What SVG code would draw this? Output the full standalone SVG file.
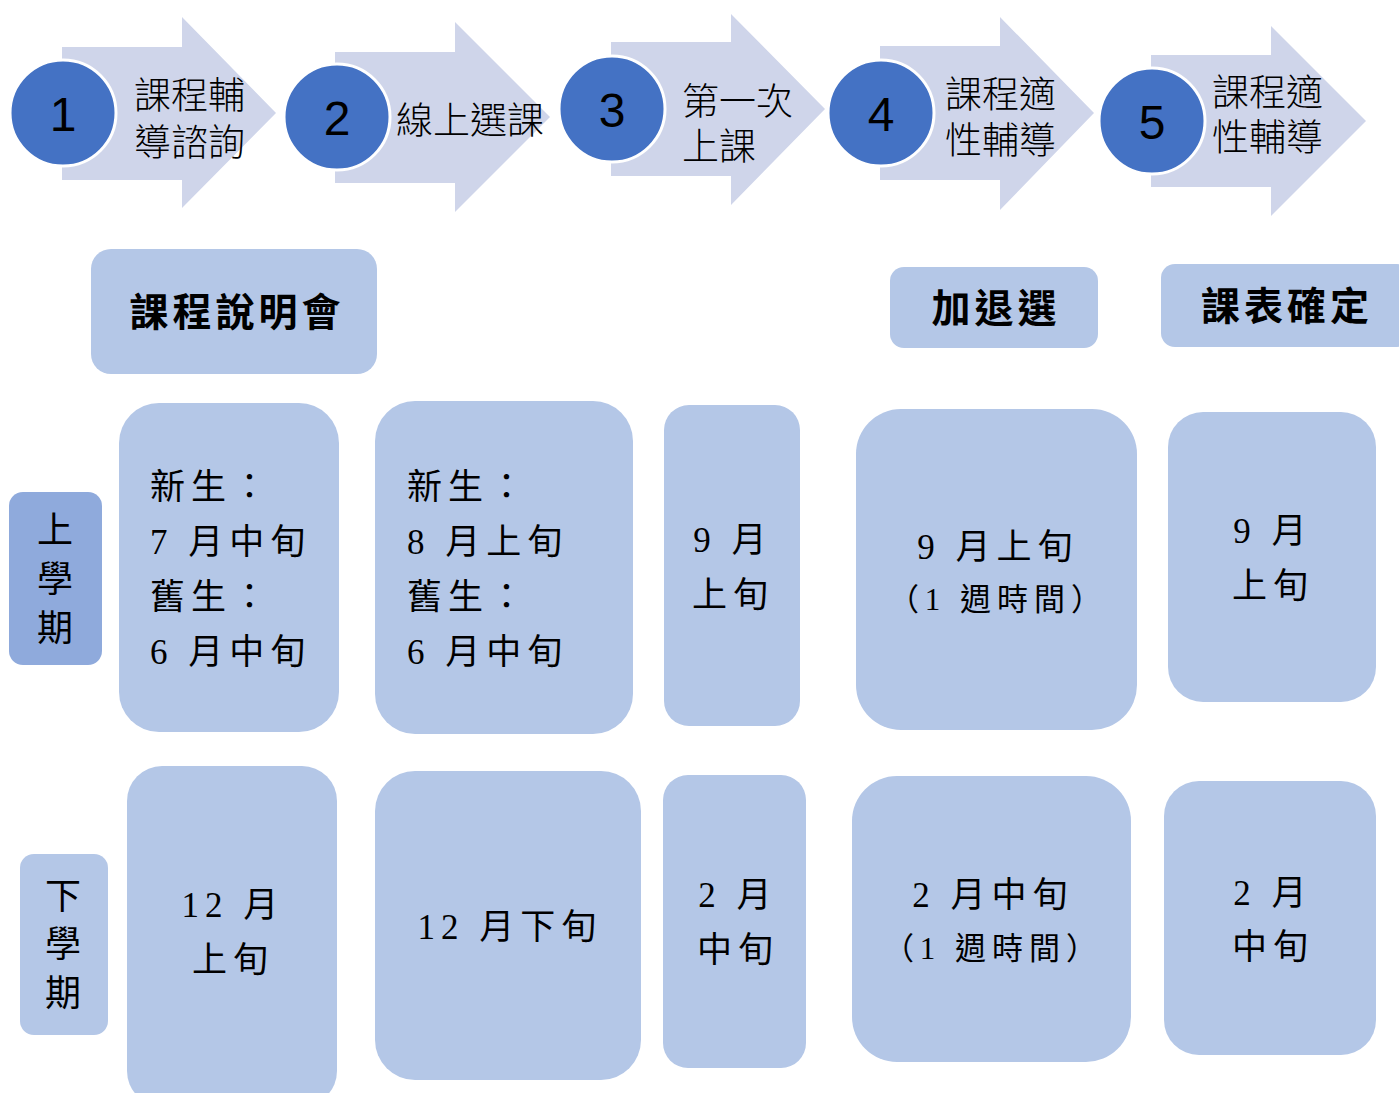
<svg xmlns="http://www.w3.org/2000/svg" width="1399" height="1093" viewBox="0 0 1399 1093">
<style>
.arrow{fill:#CFD5EA}
.circ{fill:#4472C4;stroke:#FFFFFF;stroke-width:3}
.num{font-family:"Liberation Sans","Noto Sans",sans-serif;font-size:48px;fill:#000;text-anchor:middle}
.lbl{font-family:"Noto Sans CJK TC",sans-serif;font-weight:300;font-size:37px;fill:#000}
.hdr{fill:#B4C7E7}
.hdrt{font-family:"Noto Sans CJK TC",sans-serif;font-weight:700;font-size:39px;fill:#000;text-anchor:middle;letter-spacing:4px}
.sem{font-family:"Liberation Serif","Noto Sans CJK TC",serif;font-size:36px;fill:#000;text-anchor:middle}
.cell{fill:#B4C7E7}
.ct{font-family:"Liberation Serif","Noto Sans CJK TC",serif;font-size:35px;fill:#000;letter-spacing:6px}
.cc{text-anchor:middle}
.cs{font-size:31px;letter-spacing:6px}
</style>
<g id="step1">
<polygon class="arrow" points="62,47 182,47 182,17 276,113 182,208 182,180 62,180"/>
<circle class="circ" cx="63" cy="113" r="53"/>
<text class="num" x="63" y="131">1</text>
<text class="lbl" x="134" y="109">課程輔<tspan x="134" dy="47">導諮詢</tspan></text>
</g>
<g id="step2">
<polygon class="arrow" points="335,52 455,52 455,22 550,117 455,212 455,183 335,183"/>
<circle class="circ" cx="337" cy="117" r="53"/>
<text class="num" x="337" y="135">2</text>
<text class="lbl" x="396" y="134">線上選課</text>
</g>
<g id="step3">
<polygon class="arrow" points="611,42 731,42 731,14 825,109 731,205 731,176 611,176"/>
<circle class="circ" cx="612" cy="109" r="53"/>
<text class="num" x="612" y="127">3</text>
<text class="lbl" x="682" y="115">第一次<tspan x="682" dy="45">上課</tspan></text>
</g>
<g id="step4">
<polygon class="arrow" points="880,46 1000,46 1000,17 1094,113 1000,210 1000,180 880,180"/>
<circle class="circ" cx="881" cy="113" r="53"/>
<text class="num" x="881" y="131">4</text>
<text class="lbl" x="945" y="108">課程適<tspan x="945" dy="46">性輔導</tspan></text>
</g>
<g id="step5">
<polygon class="arrow" points="1151,55 1271,55 1271,26 1366,121 1271,216 1271,187 1151,187"/>
<circle class="circ" cx="1152" cy="121" r="53"/>
<text class="num" x="1152" y="139">5</text>
<text class="lbl" x="1212" y="106">課程適<tspan x="1212" dy="45">性輔導</tspan></text>
</g>
<g id="hdr1">
<rect class="hdr" x="91" y="249" width="286" height="125" rx="20"/>
<text class="hdrt" x="237" y="326">課程說明會</text>
</g>
<g id="hdr2">
<rect class="hdr" x="890" y="267" width="208" height="81" rx="14"/>
<text class="hdrt" x="996" y="322">加退選</text>
</g>
<g id="hdr3">
<rect class="hdr" x="1161" y="264" width="250" height="83" rx="14"/>
<text class="hdrt" x="1287" y="320">課表確定</text>
</g>
<g id="sem1">
<rect x="9" y="492" width="93" height="173" rx="14" fill="#8FAADC"/>
<text class="sem" x="55" y="543">上</text>
<text class="sem" x="55" y="592">學</text>
<text class="sem" x="55" y="641">期</text>
</g>
<g id="sem2">
<rect x="20" y="854" width="88" height="181" rx="14" fill="#B4C7E7"/>
<text class="sem" x="63" y="909">下</text>
<text class="sem" x="63" y="957">學</text>
<text class="sem" x="63" y="1006">期</text>
</g>
<g id="r1c1">
<rect class="cell" x="119" y="403" width="220" height="329" rx="40"/>
<text class="ct" x="150" y="499">新生：</text>
<text class="ct" x="150" y="554">7 月中旬</text>
<text class="ct" x="150" y="609">舊生：</text>
<text class="ct" x="150" y="664">6 月中旬</text>
</g>
<g id="r1c2">
<rect class="cell" x="375" y="401" width="258" height="333" rx="40"/>
<text class="ct" x="407" y="499">新生：</text>
<text class="ct" x="407" y="554">8 月上旬</text>
<text class="ct" x="407" y="609">舊生：</text>
<text class="ct" x="407" y="664">6 月中旬</text>
</g>
<g id="r1c3">
<rect class="cell" x="664" y="405" width="136" height="321" rx="25"/>
<text class="ct cc" x="733" y="552">9 月</text>
<text class="ct cc" x="733" y="607">上旬</text>
</g>
<g id="r1c4">
<rect class="cell" x="856" y="409" width="281" height="321" rx="45"/>
<text class="ct cc" x="998" y="559">9 月上旬</text>
<text class="ct cc cs" x="998" y="610">（1 週時間）</text>
</g>
<g id="r1c5">
<rect class="cell" x="1168" y="412" width="208" height="290" rx="35"/>
<text class="ct cc" x="1273" y="543">9 月</text>
<text class="ct cc" x="1273" y="598">上旬</text>
</g>
<g id="r2c1">
<rect class="cell" x="127" y="766" width="210" height="340" rx="35"/>
<text class="ct cc" x="233" y="917">12 月</text>
<text class="ct cc" x="233" y="972">上旬</text>
</g>
<g id="r2c2">
<rect class="cell" x="375" y="771" width="266" height="309" rx="40"/>
<text class="ct cc" x="510" y="939">12 月下旬</text>
</g>
<g id="r2c3">
<rect class="cell" x="663" y="775" width="143" height="293" rx="25"/>
<text class="ct cc" x="738" y="907">2 月</text>
<text class="ct cc" x="738" y="962">中旬</text>
</g>
<g id="r2c4">
<rect class="cell" x="852" y="776" width="279" height="286" rx="45"/>
<text class="ct cc" x="993" y="907">2 月中旬</text>
<text class="ct cc cs" x="993" y="959">（1 週時間）</text>
</g>
<g id="r2c5">
<rect class="cell" x="1164" y="781" width="212" height="274" rx="35"/>
<text class="ct cc" x="1273" y="905">2 月</text>
<text class="ct cc" x="1273" y="959">中旬</text>
</g>
<g id="connectors"></g>
</svg>
